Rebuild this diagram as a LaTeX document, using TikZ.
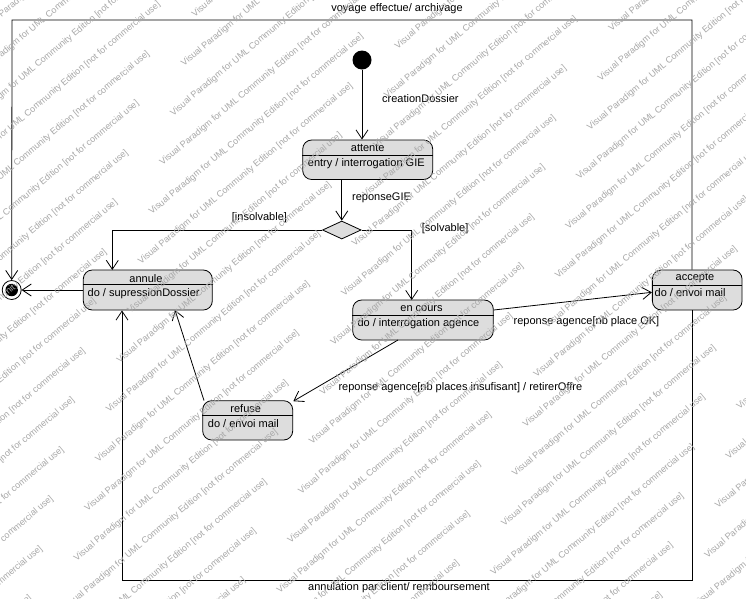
\documentclass[tikz,border=0pt]{standalone}
\usepackage{fontspec}
\setmainfont{Liberation Sans}
\usetikzlibrary{arrows.meta,shapes.geometric}
\definecolor{boxfill}{RGB}{221,221,221}
\definecolor{wmgray}{RGB}{168,168,168}
\begin{document}
\begin{tikzpicture}[x=1pt,y=1pt,
  state/.style={draw, rounded corners=9pt, fill=boxfill, line width=0.8pt, inner sep=0pt},
  lbl/.style={font=\fontsize{11}{13}\selectfont, inner sep=0pt},
  arr/.style={-{Straight Barb[length=9pt,width=12pt]}, line width=0.8pt},
  ln/.style={line width=0.8pt},
  wmk/.style={font=\fontsize{9}{11}\selectfont, text=wmgray, rotate=40, anchor=west, inner sep=0pt}]
\useasboundingbox (0,0) rectangle (746,-598);
\fill[white] (0,0) rectangle (746,-598);

% initial and final states
\node[circle, fill=black, minimum size=19pt, inner sep=0pt] (init) at (362,-60) {};
\node[circle, draw, line width=0.8pt, fill=white, minimum size=19pt, inner sep=0pt] (final) at (11.7,-290) {};
\node[circle, fill=black, minimum size=12.5pt, inner sep=0pt] (finalin) at (final.center) {};

% states
\node[state, minimum width=130pt, minimum height=39.5pt] (attente) at (367.7,-159.75) {};
\draw[ln] (attente.west |- 0,-155.7) -- (attente.east |- 0,-155.7);
\node[lbl] (attenteT) at (367.7,-148) {attente};
\node[lbl, anchor=west] (attenteD) at (307.7,-164) {entry / interrogation GIE};

\node[state, minimum width=129pt, minimum height=40pt] (annule) at (147.8,-290) {};
\draw[ln] (annule.west |- 0,-284.7) -- (annule.east |- 0,-284.7);
\node[lbl] (annuleT) at (146,-278.5) {annule};
\node[lbl, anchor=west] (annuleD) at (87.5,-293.5) {do / supressionDossier};

\node[state, minimum width=140.6pt, minimum height=40pt] (encours) at (423,-320) {};
\draw[ln] (encours.west |- 0,-315.3) -- (encours.east |- 0,-315.3);
\node[lbl] (encoursT) at (421.5,-308.3) {en cours};
\node[lbl, anchor=west] (encoursD) at (357.3,-323.5) {do / interrogation agence};

\node[state, minimum width=89.7pt, minimum height=40pt] (accepte) at (697.2,-290) {};
\draw[ln] (accepte.west |- 0,-285) -- (accepte.east |- 0,-285);
\node[lbl] (accepteT) at (695,-278) {accepte};
\node[lbl, anchor=west] (accepteD) at (654.5,-293) {do / envoi mail};

\node[state, minimum width=90pt, minimum height=39.3pt] (refuse) at (247.7,-420.35) {};
\draw[ln] (refuse.west |- 0,-415.7) -- (refuse.east |- 0,-415.7);
\node[lbl] (refuseT) at (245.7,-409) {refuse};
\node[lbl, anchor=west] (refuseD) at (207.7,-423.5) {do / envoi mail};

% decision
\node[diamond, draw, fill=boxfill, line width=0.8pt, inner sep=0pt, minimum width=38.6pt, minimum height=18pt] (dec) at (341.8,-230) {};

% helper coordinates
\coordinate (tl) at (12,-20);
\coordinate (tr) at (692,-20);
\coordinate (bl) at (122,-580);
\coordinate (br) at (692,-580);

% transitions
\draw[arr] (init.south) -- (init.south |- attente.north);
\draw[arr] (attente.south -| dec.north) -- (dec.north);
\draw[arr] (dec.west) -| (112.3,-270) coordinate (annIn);
\draw[arr] (dec.east) -| (411.7,-300) coordinate (encIn);
\draw[arr] (annule.west) -- (final.east);
\draw[arr] (encours.east |- 0,-310) -- (accepte.west |- 0,-292.3);
\draw[arr] (398,-340) -- (293.3,-401.2);
\draw[arr] (204,-400.5) -- (175,-310);
\draw[arr] (accepte.north -| tr) -- (tr) -- (tl) -- (final.north);
\draw[arr] (accepte.south -| br) -- (br) -- (bl) -- (bl |- annule.south);

% transition labels
\node[lbl, anchor=west] (l1) at (382,-99) {creationDossier};
\node[lbl, anchor=west] (l2) at (352,-198) {reponseGIE};
\node[lbl, anchor=west] (l3) at (231.7,-218) {[insolvable]};
\node[lbl, anchor=west] (l4) at (421.7,-228.3) {[solvable]};
\node[lbl, anchor=west] (l5) at (513.5,-322) {reponse agence[nb place OK]};
\node[lbl, anchor=west] (l6) at (338.3,-388) {reponse agence[nb places insufisant] / retirerOffre};
\node[lbl] (l7) at (397,-9) {voyage effectue/ archivage};
\node[lbl] (l8) at (399,-588) {annulation par client/ remboursement};

% watermark
\begin{scope}
\clip (0,0) rectangle (746,-598);
\foreach \k in {-8,...,24}{
  \foreach \m in {-4,...,4}{
    \pgfmathsetmacro{\wmn}{229+31*\k}
    \pgfmathsetmacro{\wmt}{18-40*\k+335*\m}
    \pgfmathsetmacro{\wx}{\wmn*sin(40)+\wmt*cos(40)}
    \pgfmathsetmacro{\wy}{\wmn*cos(40)-\wmt*sin(40)}
    \node[wmk] (wm\k x\m) at (\wx,-\wy) {Visual Paradigm for UML Community Edition [not for commercial use]};
  }
}
\end{scope}
\end{tikzpicture}
\end{document}
